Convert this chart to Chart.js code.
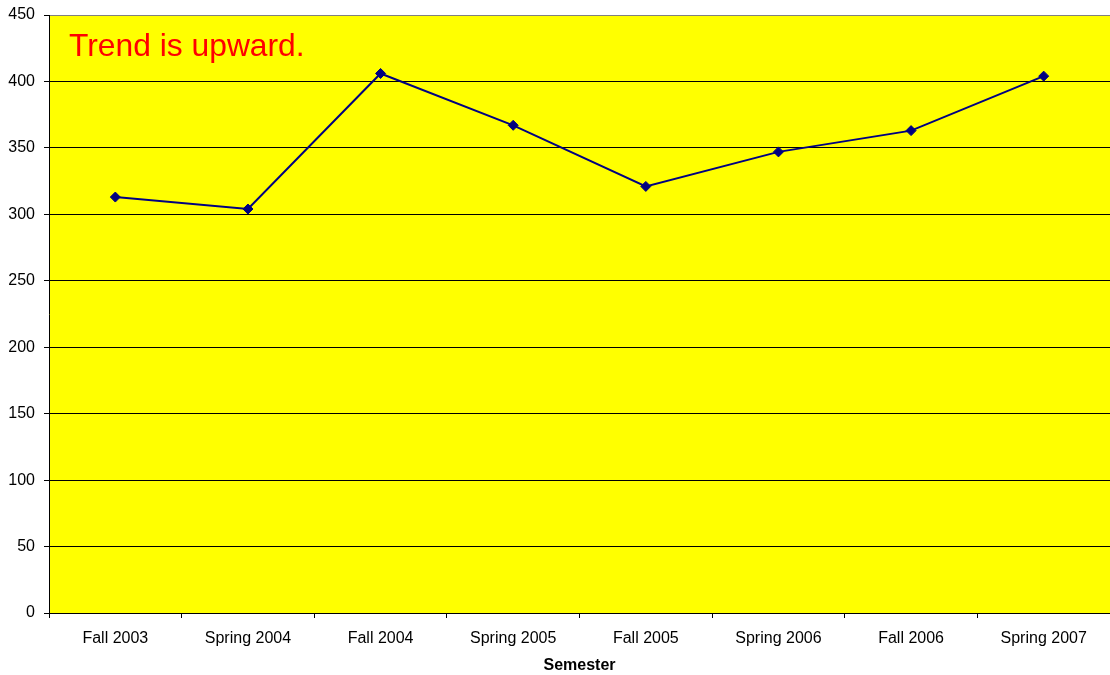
<!DOCTYPE html>
<html>
<head>
<meta charset="utf-8">
<script src="https://cdn.jsdelivr.net/npm/chart.js@4"></script>
<style>
  html, body { margin: 0; padding: 0; background: #fff; }
  #wrap { width: 1110px; height: 675px; }
</style>
</head>
<body>
<div id="wrap"><canvas id="c" width="1110" height="675"></canvas></div>
<script>
const semesters = ['Fall 2003', 'Spring 2004', 'Fall 2004', 'Spring 2005',
                   'Fall 2005', 'Spring 2006', 'Fall 2006', 'Spring 2007'];
const enrollment = [313, 304, 406, 367, 321, 347, 363, 404];
const yTicks = [0, 50, 100, 150, 200, 250, 300, 350, 400, 450];
const note = 'Trend is upward.';

// yellow plot background + the red note in the top-left corner
const plotDecor = {
    id: 'plotDecor',
    beforeDraw(chart) {
        const { ctx, chartArea: a } = chart;
        ctx.save();
        ctx.fillStyle = '#ffff00';
        ctx.fillRect(a.left, a.top, a.right - a.left, a.bottom - a.top);
        ctx.restore();
    },
    afterDraw(chart) {
        const { ctx } = chart;
        ctx.save();
        ctx.fillStyle = '#ff0000';
        ctx.font = '31.8px "Liberation Sans", Arial, sans-serif';
        ctx.textBaseline = 'alphabetic';
        ctx.fillText(note, 69, 56);
        ctx.restore();
    }
};

const axisFont = '"Liberation Sans", Arial, sans-serif';

new Chart(document.getElementById('c'), {
    type: 'line',
    data: {
        labels: semesters,
        datasets: [{
            label: 'Enrollment',
            data: enrollment,
            borderColor: '#000080',
            backgroundColor: '#000080',
            borderWidth: 2,
            pointStyle: 'rectRot',
            pointRadius: 5,
            pointBorderWidth: 1,
            pointBorderColor: '#000080',
            pointBackgroundColor: '#000080',
            tension: 0
        }]
    },
    options: {
        responsive: false,
        animation: false,
        layout: { autoPadding: false, padding: { top: 15, left: 0, right: 0, bottom: 0 } },
        plugins: {
            legend: { display: false },
            tooltip: { enabled: false }
        },
        scales: {
            x: {
                offset: true,
                grid: {
                    offset: true,
                    drawOnChartArea: false,
                    color: '#000',
                    tickLength: 5
                },
                border: { color: '#000', width: 1 },
                ticks: {
                    color: '#000',
                    padding: 11,
                    maxRotation: 0,
                    font: { family: axisFont, size: 16 }
                },
                title: {
                    display: true,
                    text: 'Semester',
                    color: '#000',
                    padding: { top: 4, bottom: 0 },
                    font: { family: axisFont, size: 16, weight: 'bold' }
                },
                afterFit(scale) { scale.height = 62; }
            },
            y: {
                min: 0,
                max: 450,
                afterBuildTicks(scale) { scale.ticks = yTicks.map(v => ({ value: v })); },
                grid: {
                    color: ctx => ctx.tick && ctx.tick.value === 450 ? '#808080' : '#000',
                    tickColor: '#000',
                    tickLength: 5
                },
                border: { color: '#000', width: 1 },
                ticks: {
                    color: '#000',
                    padding: 9,
                    font: { family: axisFont, size: 16 }
                },
                afterFit(scale) {
                    scale.width = 49;
                    // let the top label hang above the plot instead of pushing it down
                    scale.paddingTop = 0;
                    scale.paddingBottom = 0;
                }
            }
        }
    },
    plugins: [plotDecor]
});
</script>
</body>
</html>
